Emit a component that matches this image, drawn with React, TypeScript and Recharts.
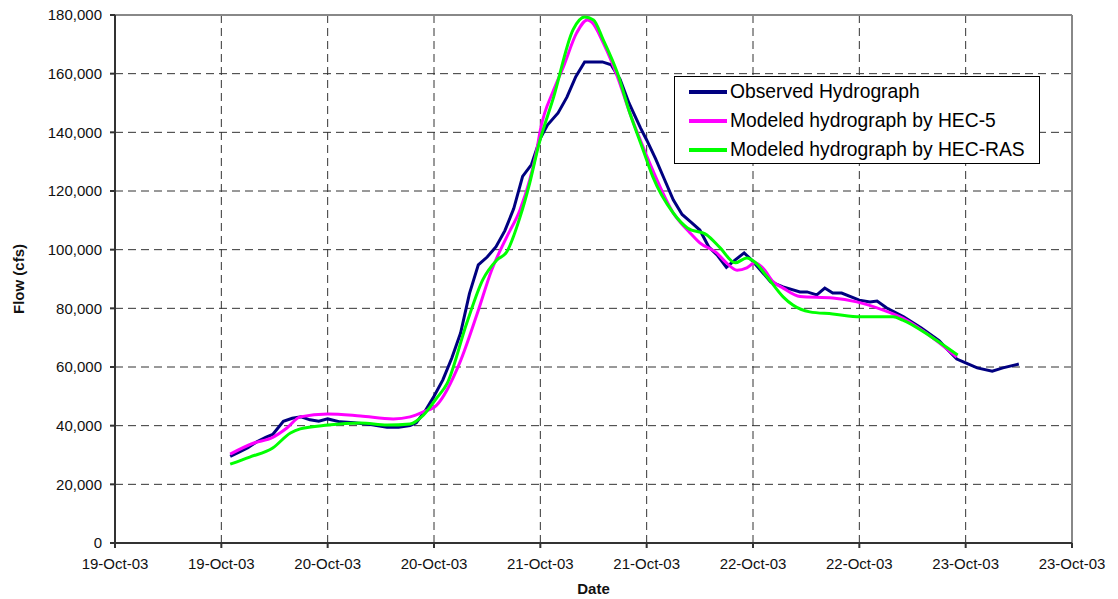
import { LineChart, Line, XAxis, YAxis, CartesianGrid, ReferenceLine } from "recharts";

// hours after 19-Oct-03 00:00
const tickHours = [0, 12, 24, 36, 48, 60, 72, 84, 96, 108];
const flowTicks = [0, 20000, 40000, 60000, 80000, 100000, 120000, 140000, 160000, 180000];

const obsHours = [13, 14, 15, 16, 17, 17.8, 19, 20, 21, 22, 23, 24, 25.4, 27, 29, 30.7, 32, 33.3, 34, 35, 36, 37, 38, 39, 40, 41, 42, 43, 44, 45, 46, 47, 48, 48.8, 50, 51, 52, 53, 55, 56, 57, 58, 59.3, 60, 61, 62, 63, 64, 65, 66, 67, 68, 69, 70, 71, 72, 74, 75.4, 77.3, 78.1, 79.2, 80.1, 81, 82, 84, 85.2, 86, 87.1, 89, 91, 93, 94, 95, 96, 97.3, 99, 100.2, 102];
const obsFlow = [29500, 31000, 32500, 34500, 36000, 37000, 41500, 42500, 43000, 42000, 41500, 42300, 41300, 41000, 40300, 39500, 39500, 40000, 41000, 45000, 50000, 55600, 63000, 71600, 85000, 94800, 97500, 101000, 106500, 114000, 125000, 129000, 138000, 142500, 146600, 152000, 159000, 164000, 164000, 163000, 158000, 150000, 141500, 137400, 131000, 124000, 117000, 112000, 109400, 106700, 101000, 98000, 94000, 96500, 98900, 96000, 89000, 87300, 85600, 85600, 84600, 86900, 85200, 85200, 82800, 82200, 82500, 80100, 77100, 73300, 69000, 65800, 62700, 61400, 59700, 58600, 59700, 61000];

const hec5Hours = [13, 15.6, 17.8, 19.4, 20.9, 24, 27.7, 31.4, 33.3, 34.8, 36.3, 38.9, 40.9, 42.5, 44.2, 45.7, 46.8, 47.6, 48, 49.5, 50.6, 52.1, 53.3, 53.8, 55.1, 56.7, 58.1, 59.6, 60.7, 63, 64.9, 66, 67.9, 69, 70.2, 71.3, 72.2, 73.1, 74.3, 75.4, 77.3, 81, 83.7, 86.7, 88.9, 92.3, 95];
const hec5Flow = [30300, 34000, 36000, 39200, 43000, 44000, 43300, 42300, 43000, 44700, 47000, 61400, 78400, 93000, 104300, 113500, 123800, 134000, 140800, 154400, 162300, 173900, 178300, 177600, 170500, 159000, 146600, 135000, 127000, 112500, 105700, 102300, 98900, 95500, 93000, 93800, 95500, 93800, 89000, 86900, 84000, 83500, 82200, 79400, 76700, 69900, 63400];

const rasHours = [13, 15.2, 17.8, 19.8, 20.9, 24, 27.7, 30.7, 33.3, 34.8, 36.3, 37.5, 39.7, 41.5, 43.1, 44.2, 45.7, 46.8, 47.8, 49.5, 51.7, 53, 54, 55.1, 56.7, 58.1, 59.6, 60.7, 63, 64.6, 66.8, 68.3, 70, 71.3, 72.2, 73.6, 75.4, 76.5, 78.4, 81, 84.1, 87.8, 88.9, 92.3, 95.1];
const rasFlow = [26900, 29300, 32400, 37500, 38900, 40200, 40900, 40200, 40600, 43600, 49400, 54500, 75000, 89700, 96500, 99200, 111000, 122700, 135500, 152000, 175000, 179300, 178300, 171500, 160200, 146600, 134000, 124800, 112500, 107400, 105000, 100600, 95500, 97200, 95800, 90700, 83900, 81100, 78800, 78100, 77100, 77100, 76000, 69900, 64100];

const seriesNames = ["Observed Hydrograph", "Modeled hydrograph by HEC-5", "Modeled hydrograph by HEC-RAS"];
const seriesColors = ["#000080", "#ff00ff", "#00ff00"];

const zip = (hs: number[], fs: number[]) => hs.map((h, i) => ({ h, flow: fs[i] }));
const observed = zip(obsHours, obsFlow);
const hec5 = zip(hec5Hours, hec5Flow);
const hecRas = zip(rasHours, rasFlow);

const font = "'Liberation Sans', Arial, sans-serif";

const dateLabel = (h: number) => `${19 + Math.floor(h / 24)}-Oct-03`;

const LegendBox = () => (
  <div style={{ position: "absolute", left: 674, top: 76, width: 366, height: 88, boxSizing: "border-box", border: "1px solid #000", background: "#fff", padding: "0 0 0 14px", fontFamily: font, fontSize: 19.3, color: "#000" }}>
    {seriesNames.map((n, i) => (
      <div key={n} style={{ display: "flex", alignItems: "center", height: 29 }}>
        <span style={{ display: "inline-block", width: 38, height: 4, background: seriesColors[i], marginRight: 3 }} />
        <span>{n}</span>
      </div>
    ))}
  </div>
);

export default function App() {
  return (
    <div style={{ position: "absolute", left: 0, top: 0, width: 1118, height: 599, background: "#fff" }}>
      <LineChart width={1118} height={599} margin={{ top: 15, right: 46, bottom: 0, left: 0 }}>
        <CartesianGrid stroke="#333" strokeDasharray="8 5" />
        <XAxis
          type="number"
          dataKey="h"
          domain={[0, 108]}
          ticks={tickHours}
          tickFormatter={dateLabel}
          height={56}
          tickSize={5}
          tickMargin={10}
          stroke="#333"
          strokeWidth={2}
          tick={{ fill: "#111", fontSize: 15, fontFamily: font }}
          label={{
            content: (p: any) => (
              <text x={p.viewBox.x + p.viewBox.width / 2} y={p.viewBox.y + 45} textAnchor="middle" dominantBaseline="central"
                style={{ fontFamily: font, fontSize: 15, fontWeight: "bold", fill: "#111" }}>Date</text>
            ),
          }}
        />
        <YAxis
          type="number"
          domain={[0, 180000]}
          ticks={flowTicks}
          width={115}
          tickSize={5}
          tickMargin={8}
          stroke="#333"
          strokeWidth={2}
          tickFormatter={(v: number) => v.toLocaleString("en-US")}
          tick={{ fill: "#111", fontSize: 15, fontFamily: font }}
          label={{
            content: (p: any) => {
              const cx = 18;
              const cy = p.viewBox.y + p.viewBox.height / 2;
              return (
                <text x={cx} y={cy} transform={`rotate(-90 ${cx} ${cy})`} textAnchor="middle" dominantBaseline="central"
                  style={{ fontFamily: font, fontSize: 15, fontWeight: "bold", fill: "#111" }}>Flow (cfs)</text>
              );
            },
          }}
        />
        <ReferenceLine y={180000} stroke="#888" strokeWidth={2} />
        <ReferenceLine x={108} stroke="#888" strokeWidth={2} />
        <Line data={observed} dataKey="flow" name={seriesNames[0]} type="linear" stroke={seriesColors[0]} strokeWidth={3} dot={false} isAnimationActive={false} />
        <Line data={hec5} dataKey="flow" name={seriesNames[1]} type="monotone" stroke={seriesColors[1]} strokeWidth={3} dot={false} isAnimationActive={false} />
        <Line data={hecRas} dataKey="flow" name={seriesNames[2]} type="monotone" stroke={seriesColors[2]} strokeWidth={3} dot={false} isAnimationActive={false} />
      </LineChart>
      <LegendBox />
    </div>
  );
}
